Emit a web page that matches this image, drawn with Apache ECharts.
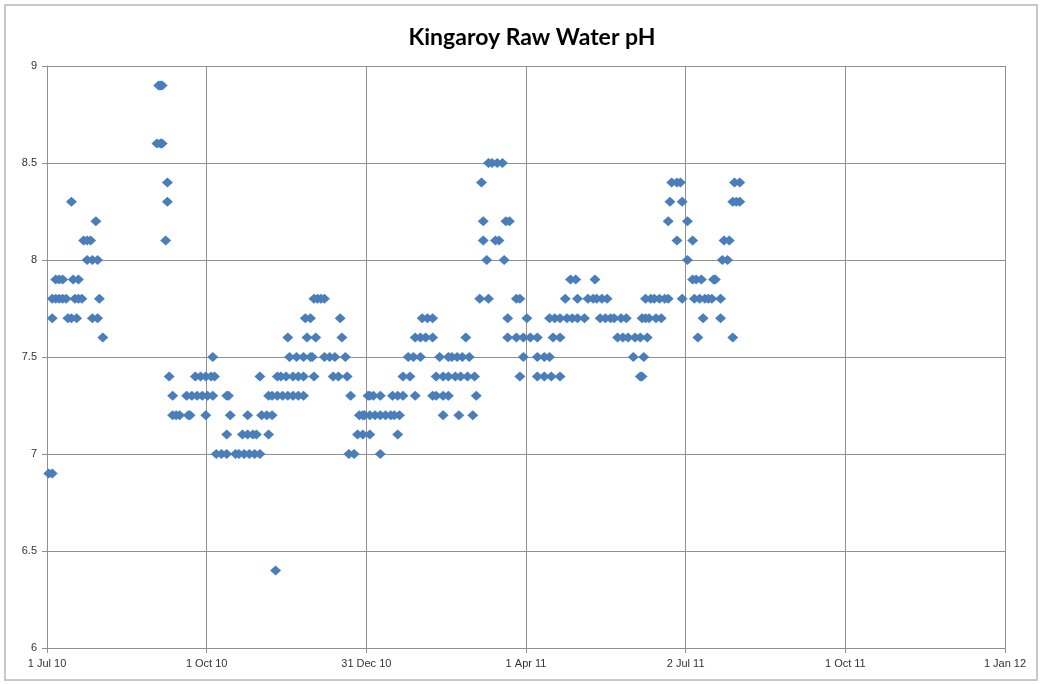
<!DOCTYPE html>
<html style="height: 100%">
<head>
    <meta charset="UTF-8">
    <title>Kingaroy Raw Water pH</title>
</head>
<body style="height: 100%; margin: 0; background: #fff">
<div id="container" style="width: 1043px; height: 684px"></div>
<script src="https://cdn.jsdelivr.net/npm/echarts@6/dist/echarts.min.js"></script>
<script>
    // x axis: days since 1 Jul 2010, Excel-style ticks every 91.5 days
    var tickLabels = ['1 Jul 10', '1 Oct 10', '31 Dec 10', '1 Apr 11', '2 Jul 11', '1 Oct 11', '1 Jan 12'];

    // pH readings, one row per pH level, listing the sample days (since 1 Jul 10)
    var phLevels = [8.9, 8.6, 8.5, 8.4, 8.3, 8.2, 8.1, 8.0, 7.9, 7.8, 7.7, 7.6, 7.5, 7.4, 7.3, 7.2, 7.1, 7.0, 6.9, 6.4];
    var daysAtLevel = [
        [64, 65, 66],
        [63, 65, 66],
        [253, 255, 258, 261],
        [69, 249, 358, 361, 363, 394, 397],
        [14, 69, 357, 364, 393, 395, 397],
        [28, 250, 263, 265, 356, 367],
        [21, 23, 25, 68, 250, 257, 259, 361, 370, 388, 391],
        [23, 26, 29, 252, 262, 367, 387, 390],
        [5, 7, 9, 15, 18, 300, 303, 314, 370, 372, 375, 382, 383],
        [3, 5, 7, 9, 11, 16, 18, 20, 30, 153, 155, 157, 159, 248, 253, 269, 271, 297, 304,
            310, 313, 315, 318, 321, 343, 346, 348, 351, 354, 356, 364, 371, 374, 377, 379, 381, 386],
        [3, 12, 14, 17, 26, 29, 148, 151, 168, 215, 218, 221, 264, 275, 288, 291, 294, 298,
            301, 304, 308, 317, 320, 323, 325, 329, 332, 341, 343, 345, 349, 352, 376, 386],
        [32, 138, 149, 154, 169, 211, 214, 217, 221, 240, 264, 269, 273, 277, 281, 290, 294,
            327, 330, 333, 337, 340, 344, 373, 393],
        [95, 139, 143, 147, 151, 152, 159, 162, 165, 171, 207, 210, 214, 225, 230, 232, 235,
            238, 242, 273, 281, 285, 288, 336, 342],
        [70, 85, 88, 91, 94, 96, 122, 132, 134, 137, 141, 144, 147, 153, 164, 167, 172, 204,
            208, 223, 227, 230, 234, 237, 241, 245, 271, 281, 285, 289, 294, 340, 341],
        [72, 80, 83, 86, 89, 92, 95, 103, 104, 127, 129, 132, 135, 138, 141, 144, 147, 174,
            184, 185, 187, 191, 198, 201, 204, 211, 221, 223, 227, 230, 246],
        [72, 74, 76, 81, 82, 91, 105, 115, 123, 126, 129, 179, 181, 182, 185, 188, 191, 194,
            197, 199, 202, 227, 236, 244],
        [103, 112, 115, 118, 120, 127, 178, 181, 185, 201],
        [97, 100, 103, 108, 110, 113, 116, 119, 122, 173, 176, 191],
        [1, 3],
        [131]
    ];

    var seriesData = [];
    for (var i = 0; i < phLevels.length; i++) {
        for (var j = 0; j < daysAtLevel[i].length; j++) {
            seriesData.push([daysAtLevel[i][j], phLevels[i]]);
        }
    }

    var dom = document.getElementById("container");
    var myChart = echarts.init(dom, null, {renderer: 'canvas'});
    var gridColor = '#909090';
    var labelStyle = {color: '#333', fontSize: 11, fontFamily: 'Liberation Sans'};
    var option = {
        animation: false,
        backgroundColor: '#fff',
        title: {
            text: 'Kingaroy Raw Water pH',
            left: 527,
            top: 21,
            textAlign: 'center',
            textStyle: {fontFamily: 'Lato', fontWeight: 'bold', fontSize: 23, color: '#000'}
        },
        graphic: [{
            type: 'rect',
            shape: {x: 5, y: 5, width: 1032, height: 675},
            style: {fill: 'none', stroke: '#c8c8c8', lineWidth: 2},
            silent: true
        }],
        grid: {left: 47, right: 38, top: 66, bottom: 36},
        xAxis: {
            type: 'value',
            min: 0,
            max: 549,
            interval: 91.5,
            axisLine: {lineStyle: {color: gridColor}},
            axisTick: {show: true, length: 5, lineStyle: {color: gridColor}},
            splitLine: {show: true, lineStyle: {color: gridColor, width: 1}},
            axisLabel: Object.assign({
                margin: 10,
                formatter: function (v) {
                    return tickLabels[Math.round(v / 91.5)];
                }
            }, labelStyle)
        },
        yAxis: {
            type: 'value',
            min: 6,
            max: 9,
            interval: 0.5,
            axisLine: {show: true, lineStyle: {color: gridColor}},
            axisTick: {show: true, length: 5, lineStyle: {color: gridColor}},
            splitLine: {show: true, lineStyle: {color: gridColor, width: 1}},
            axisLabel: Object.assign({margin: 10}, labelStyle)
        },
        series: [{
            name: 'pH',
            type: 'scatter',
            symbol: 'diamond',
            symbolSize: [11, 10],
            itemStyle: {color: '#4a7ebb', opacity: 1},
            data: seriesData
        }]
    };
    myChart.setOption(option);
</script>
</body>
</html>
